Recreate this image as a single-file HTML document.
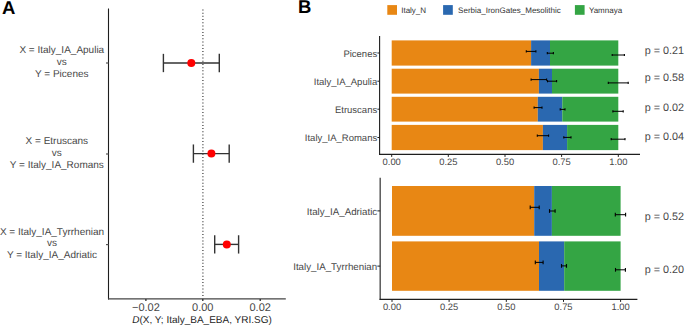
<!DOCTYPE html>
<html><head><meta charset="utf-8"><style>
html,body{margin:0;padding:0;background:#fff;}
body{width:685px;height:325px;overflow:hidden;}
svg{display:block;font-family:"Liberation Sans", sans-serif;text-rendering:geometricPrecision;}
</style></head><body>
<svg width="685" height="325" viewBox="0 0 685 325">
<rect width="685" height="325" fill="#fff"/>
<text x="1.90" y="13.50" font-size="18.5" fill="#000" font-weight="bold">A</text>
<line x1="202.9" y1="9.42" x2="202.9" y2="298.4" stroke="#444" stroke-width="1.3" stroke-dasharray="1 2.208"/>
<line x1="108.5" y1="8.6" x2="108.5" y2="299.6" stroke="#1e1e1e" stroke-width="1.1"/>
<line x1="108" y1="298.9" x2="285.8" y2="298.9" stroke="#444" stroke-width="1.4"/>
<line x1="106.0" y1="63.0" x2="108.5" y2="63.0" stroke="#555" stroke-width="1.2"/>
<line x1="106.0" y1="154.0" x2="108.5" y2="154.0" stroke="#555" stroke-width="1.2"/>
<line x1="106.0" y1="244.6" x2="108.5" y2="244.6" stroke="#555" stroke-width="1.2"/>
<line x1="145.9" y1="298.9" x2="145.9" y2="301" stroke="#1e1e1e" stroke-width="1.2"/>
<line x1="202.8" y1="298.9" x2="202.8" y2="301" stroke="#1e1e1e" stroke-width="1.2"/>
<line x1="260.2" y1="298.9" x2="260.2" y2="301" stroke="#1e1e1e" stroke-width="1.2"/>
<line x1="163.4" y1="63.0" x2="219.3" y2="63.0" stroke="#333" stroke-width="1.4"/>
<line x1="163.4" y1="53.85" x2="163.4" y2="72.15" stroke="#333" stroke-width="1.4"/>
<line x1="219.3" y1="53.85" x2="219.3" y2="72.15" stroke="#333" stroke-width="1.4"/>
<circle cx="191.3" cy="63.0" r="4.0" fill="#FF0000"/>
<line x1="193.4" y1="153.6" x2="229.2" y2="153.6" stroke="#333" stroke-width="1.4"/>
<line x1="193.4" y1="144.45" x2="193.4" y2="162.75" stroke="#333" stroke-width="1.4"/>
<line x1="229.2" y1="144.45" x2="229.2" y2="162.75" stroke="#333" stroke-width="1.4"/>
<circle cx="211.4" cy="153.6" r="4.0" fill="#FF0000"/>
<line x1="214.7" y1="244.4" x2="238.6" y2="244.4" stroke="#333" stroke-width="1.4"/>
<line x1="214.7" y1="235.25" x2="214.7" y2="253.55" stroke="#333" stroke-width="1.4"/>
<line x1="238.6" y1="235.25" x2="238.6" y2="253.55" stroke="#333" stroke-width="1.4"/>
<circle cx="226.8" cy="244.4" r="4.0" fill="#FF0000"/>
<text x="61.80" y="53.10" font-size="10" text-anchor="middle" fill="#474747">X = Italy_IA_Apulia</text>
<text x="61.80" y="64.90" font-size="10" text-anchor="middle" fill="#474747">vs</text>
<text x="61.80" y="76.70" font-size="10" text-anchor="middle" fill="#474747">Y = Picenes</text>
<text x="56.85" y="144.00" font-size="10" text-anchor="middle" fill="#474747">X = Etruscans</text>
<text x="56.85" y="155.80" font-size="10" text-anchor="middle" fill="#474747">vs</text>
<text x="56.85" y="167.60" font-size="10" text-anchor="middle" fill="#474747">Y = Italy_IA_Romans</text>
<text x="52.00" y="234.50" font-size="10" text-anchor="middle" fill="#474747">X = Italy_IA_Tyrrhenian</text>
<text x="52.00" y="246.30" font-size="10" text-anchor="middle" fill="#474747">vs</text>
<text x="52.00" y="258.10" font-size="10" text-anchor="middle" fill="#474747">Y = Italy_IA_Adriatic</text>
<text x="145.90" y="310.80" font-size="11" text-anchor="middle" fill="#474747">−0.02</text>
<text x="202.80" y="310.80" font-size="11" text-anchor="middle" fill="#474747">0.00</text>
<text x="260.20" y="310.80" font-size="11" text-anchor="middle" fill="#474747">0.02</text>
<text x="202.00" y="322.50" font-size="10" text-anchor="middle" fill="#262626"><tspan font-style="italic">D</tspan>(X, Y; Italy_BA_EBA, YRI.SG)</text>
<text x="297.90" y="13.30" font-size="18.5" fill="#000" font-weight="bold">B</text>
<rect x="387.3" y="5.1" width="9.7" height="9.7" fill="#E88714"/>
<text x="401.20" y="13.10" font-size="8.0" fill="#333">Italy_N</text>
<rect x="443.1" y="5.1" width="9.7" height="9.7" fill="#2A68B0"/>
<text x="458.10" y="13.10" font-size="8.0" fill="#333">Serbia_IronGates_Mesolithic</text>
<rect x="574.9" y="5.1" width="9.7" height="9.7" fill="#34A544"/>
<text x="588.90" y="13.10" font-size="8.0" fill="#333">Yamnaya</text>
<rect x="391.7" y="40.4" width="139.40" height="25.20" fill="#E88714"/>
<rect x="531.10" y="40.4" width="18.90" height="25.20" fill="#2A68B0"/>
<rect x="550.00" y="40.4" width="68.30" height="25.20" fill="#34A544"/>
<rect x="391.7" y="68.7" width="147.20" height="24.90" fill="#E88714"/>
<rect x="538.90" y="68.7" width="13.10" height="24.90" fill="#2A68B0"/>
<rect x="552.00" y="68.7" width="66.30" height="24.90" fill="#34A544"/>
<rect x="391.7" y="96.8" width="146.10" height="24.80" fill="#E88714"/>
<rect x="537.80" y="96.8" width="24.50" height="24.80" fill="#2A68B0"/>
<rect x="562.30" y="96.8" width="56.00" height="24.80" fill="#34A544"/>
<rect x="391.7" y="124.9" width="151.20" height="25.20" fill="#E88714"/>
<rect x="542.90" y="124.9" width="24.20" height="25.20" fill="#2A68B0"/>
<rect x="567.10" y="124.9" width="51.20" height="25.20" fill="#34A544"/>
<line x1="526.3" y1="51.4" x2="535.9" y2="51.4" stroke="#000" stroke-width="1"/>
<line x1="526.3" y1="50.30" x2="526.3" y2="52.50" stroke="#000" stroke-width="1.1"/>
<line x1="535.9" y1="50.30" x2="535.9" y2="52.50" stroke="#000" stroke-width="1.1"/>
<line x1="547.3" y1="53.2" x2="553.4" y2="53.2" stroke="#000" stroke-width="1"/>
<line x1="547.3" y1="52.10" x2="547.3" y2="54.30" stroke="#000" stroke-width="1.1"/>
<line x1="553.4" y1="52.10" x2="553.4" y2="54.30" stroke="#000" stroke-width="1.1"/>
<line x1="612.2" y1="55.0" x2="624.4" y2="55.0" stroke="#000" stroke-width="1"/>
<line x1="612.2" y1="53.90" x2="612.2" y2="56.10" stroke="#000" stroke-width="1.1"/>
<line x1="624.4" y1="53.90" x2="624.4" y2="56.10" stroke="#000" stroke-width="1.1"/>
<line x1="377.4" y1="53.0" x2="379.6" y2="53.0" stroke="#1e1e1e" stroke-width="1"/>
<text x="377.20" y="56.60" font-size="9.5" text-anchor="end" fill="#474747">Picenes</text>
<text x="644.80" y="54.10" font-size="10.8" fill="#474747">p = 0.21</text>
<line x1="531.1" y1="79.6" x2="546.6" y2="79.6" stroke="#000" stroke-width="1"/>
<line x1="531.1" y1="78.50" x2="531.1" y2="80.70" stroke="#000" stroke-width="1.1"/>
<line x1="546.6" y1="78.50" x2="546.6" y2="80.70" stroke="#000" stroke-width="1.1"/>
<line x1="547.5" y1="81.2" x2="556.6" y2="81.2" stroke="#000" stroke-width="1"/>
<line x1="547.5" y1="80.10" x2="547.5" y2="82.30" stroke="#000" stroke-width="1.1"/>
<line x1="556.6" y1="80.10" x2="556.6" y2="82.30" stroke="#000" stroke-width="1.1"/>
<line x1="608.3" y1="82.9" x2="628.2" y2="82.9" stroke="#000" stroke-width="1"/>
<line x1="608.3" y1="81.80" x2="608.3" y2="84.00" stroke="#000" stroke-width="1.1"/>
<line x1="628.2" y1="81.80" x2="628.2" y2="84.00" stroke="#000" stroke-width="1.1"/>
<line x1="377.4" y1="81.2" x2="379.6" y2="81.2" stroke="#1e1e1e" stroke-width="1"/>
<text x="377.20" y="84.75" font-size="9.5" text-anchor="end" fill="#474747">Italy_IA_Apulia</text>
<text x="644.80" y="80.70" font-size="10.8" fill="#474747">p = 0.58</text>
<line x1="534.1" y1="107.6" x2="542" y2="107.6" stroke="#000" stroke-width="1"/>
<line x1="534.1" y1="106.50" x2="534.1" y2="108.70" stroke="#000" stroke-width="1.1"/>
<line x1="542" y1="106.50" x2="542" y2="108.70" stroke="#000" stroke-width="1.1"/>
<line x1="560.2" y1="109.4" x2="565" y2="109.4" stroke="#000" stroke-width="1"/>
<line x1="560.2" y1="108.30" x2="560.2" y2="110.50" stroke="#000" stroke-width="1.1"/>
<line x1="565" y1="108.30" x2="565" y2="110.50" stroke="#000" stroke-width="1.1"/>
<line x1="612.9" y1="111.3" x2="623.2" y2="111.3" stroke="#000" stroke-width="1"/>
<line x1="612.9" y1="110.20" x2="612.9" y2="112.40" stroke="#000" stroke-width="1.1"/>
<line x1="623.2" y1="110.20" x2="623.2" y2="112.40" stroke="#000" stroke-width="1.1"/>
<line x1="377.4" y1="109.2" x2="379.6" y2="109.2" stroke="#1e1e1e" stroke-width="1"/>
<text x="377.20" y="112.80" font-size="9.5" text-anchor="end" fill="#474747">Etruscans</text>
<text x="644.80" y="110.80" font-size="10.8" fill="#474747">p = 0.02</text>
<line x1="537.3" y1="135.7" x2="548.6" y2="135.7" stroke="#000" stroke-width="1"/>
<line x1="537.3" y1="134.60" x2="537.3" y2="136.80" stroke="#000" stroke-width="1.1"/>
<line x1="548.6" y1="134.60" x2="548.6" y2="136.80" stroke="#000" stroke-width="1.1"/>
<line x1="563.8" y1="137.4" x2="571" y2="137.4" stroke="#000" stroke-width="1"/>
<line x1="563.8" y1="136.30" x2="563.8" y2="138.50" stroke="#000" stroke-width="1.1"/>
<line x1="571" y1="136.30" x2="571" y2="138.50" stroke="#000" stroke-width="1.1"/>
<line x1="611.2" y1="139.2" x2="625" y2="139.2" stroke="#000" stroke-width="1"/>
<line x1="611.2" y1="138.10" x2="611.2" y2="140.30" stroke="#000" stroke-width="1.1"/>
<line x1="625" y1="138.10" x2="625" y2="140.30" stroke="#000" stroke-width="1.1"/>
<line x1="377.4" y1="137.5" x2="379.6" y2="137.5" stroke="#1e1e1e" stroke-width="1"/>
<text x="377.20" y="141.10" font-size="9.5" text-anchor="end" fill="#474747">Italy_IA_Romans</text>
<text x="644.80" y="140.20" font-size="10.8" fill="#474747">p = 0.04</text>
<line x1="379.6" y1="35.9" x2="379.6" y2="154.9" stroke="#1e1e1e" stroke-width="1.1"/>
<line x1="379.05" y1="154.4" x2="640" y2="154.4" stroke="#1e1e1e" stroke-width="1.1"/>
<line x1="391.7" y1="154.4" x2="391.7" y2="156.9" stroke="#1e1e1e" stroke-width="1"/>
<text x="391.70" y="164.80" font-size="9.4" text-anchor="middle" fill="#474747">0.00</text>
<line x1="448.3" y1="154.4" x2="448.3" y2="156.9" stroke="#1e1e1e" stroke-width="1"/>
<text x="448.35" y="164.80" font-size="9.4" text-anchor="middle" fill="#474747">0.25</text>
<line x1="505.0" y1="154.4" x2="505.0" y2="156.9" stroke="#1e1e1e" stroke-width="1"/>
<text x="505.00" y="164.80" font-size="9.4" text-anchor="middle" fill="#474747">0.50</text>
<line x1="561.6" y1="154.4" x2="561.6" y2="156.9" stroke="#1e1e1e" stroke-width="1"/>
<text x="561.65" y="164.80" font-size="9.4" text-anchor="middle" fill="#474747">0.75</text>
<line x1="618.3" y1="154.4" x2="618.3" y2="156.9" stroke="#1e1e1e" stroke-width="1"/>
<text x="618.30" y="164.80" font-size="9.4" text-anchor="middle" fill="#474747">1.00</text>
<rect x="392" y="186.0" width="142.20" height="49.80" fill="#E88714"/>
<rect x="534.20" y="186.0" width="17.70" height="49.80" fill="#2A68B0"/>
<rect x="551.90" y="186.0" width="68.70" height="49.80" fill="#34A544"/>
<rect x="392" y="241.4" width="147.00" height="49.40" fill="#E88714"/>
<rect x="539.00" y="241.4" width="25.20" height="49.40" fill="#2A68B0"/>
<rect x="564.20" y="241.4" width="56.40" height="49.40" fill="#34A544"/>
<line x1="530.2" y1="207.3" x2="539.2" y2="207.3" stroke="#000" stroke-width="1"/>
<line x1="530.2" y1="205.45" x2="530.2" y2="209.15" stroke="#000" stroke-width="1.1"/>
<line x1="539.2" y1="205.45" x2="539.2" y2="209.15" stroke="#000" stroke-width="1.1"/>
<line x1="549.5" y1="211.0" x2="555.1" y2="211.0" stroke="#000" stroke-width="1"/>
<line x1="549.5" y1="209.15" x2="549.5" y2="212.85" stroke="#000" stroke-width="1.1"/>
<line x1="555.1" y1="209.15" x2="555.1" y2="212.85" stroke="#000" stroke-width="1.1"/>
<line x1="615.3" y1="214.7" x2="625.6" y2="214.7" stroke="#000" stroke-width="1"/>
<line x1="615.3" y1="212.85" x2="615.3" y2="216.55" stroke="#000" stroke-width="1.1"/>
<line x1="625.6" y1="212.85" x2="625.6" y2="216.55" stroke="#000" stroke-width="1.1"/>
<line x1="377.4" y1="210.9" x2="380.15" y2="210.9" stroke="#1e1e1e" stroke-width="1"/>
<text x="377.20" y="214.50" font-size="9.75" text-anchor="end" fill="#474747">Italy_IA_Adriatic</text>
<text x="644.80" y="219.80" font-size="10.8" fill="#474747">p = 0.52</text>
<line x1="535.3" y1="262.4" x2="543.1" y2="262.4" stroke="#000" stroke-width="1"/>
<line x1="535.3" y1="260.55" x2="535.3" y2="264.25" stroke="#000" stroke-width="1.1"/>
<line x1="543.1" y1="260.55" x2="543.1" y2="264.25" stroke="#000" stroke-width="1.1"/>
<line x1="561.5" y1="265.9" x2="566.5" y2="265.9" stroke="#000" stroke-width="1"/>
<line x1="561.5" y1="264.05" x2="561.5" y2="267.75" stroke="#000" stroke-width="1.1"/>
<line x1="566.5" y1="264.05" x2="566.5" y2="267.75" stroke="#000" stroke-width="1.1"/>
<line x1="615.5" y1="269.8" x2="625.4" y2="269.8" stroke="#000" stroke-width="1"/>
<line x1="615.5" y1="267.95" x2="615.5" y2="271.65" stroke="#000" stroke-width="1.1"/>
<line x1="625.4" y1="267.95" x2="625.4" y2="271.65" stroke="#000" stroke-width="1.1"/>
<line x1="377.4" y1="266.1" x2="380.15" y2="266.1" stroke="#1e1e1e" stroke-width="1"/>
<text x="377.20" y="269.70" font-size="9.75" text-anchor="end" fill="#474747">Italy_IA_Tyrrhenian</text>
<text x="644.80" y="273.10" font-size="10.8" fill="#474747">p = 0.20</text>
<line x1="380.15" y1="177.8" x2="380.15" y2="299.9" stroke="#1e1e1e" stroke-width="1.1"/>
<line x1="379.59999999999997" y1="299.4" x2="637.4" y2="299.4" stroke="#1e1e1e" stroke-width="1.1"/>
<line x1="392.0" y1="299.4" x2="392.0" y2="301.9" stroke="#1e1e1e" stroke-width="1"/>
<text x="392.00" y="309.50" font-size="9.4" text-anchor="middle" fill="#474747">0.00</text>
<line x1="449.1" y1="299.4" x2="449.1" y2="301.9" stroke="#1e1e1e" stroke-width="1"/>
<text x="449.15" y="309.50" font-size="9.4" text-anchor="middle" fill="#474747">0.25</text>
<line x1="506.3" y1="299.4" x2="506.3" y2="301.9" stroke="#1e1e1e" stroke-width="1"/>
<text x="506.30" y="309.50" font-size="9.4" text-anchor="middle" fill="#474747">0.50</text>
<line x1="563.5" y1="299.4" x2="563.5" y2="301.9" stroke="#1e1e1e" stroke-width="1"/>
<text x="563.45" y="309.50" font-size="9.4" text-anchor="middle" fill="#474747">0.75</text>
<line x1="620.6" y1="299.4" x2="620.6" y2="301.9" stroke="#1e1e1e" stroke-width="1"/>
<text x="620.60" y="309.50" font-size="9.4" text-anchor="middle" fill="#474747">1.00</text>
</svg>
</body></html>
